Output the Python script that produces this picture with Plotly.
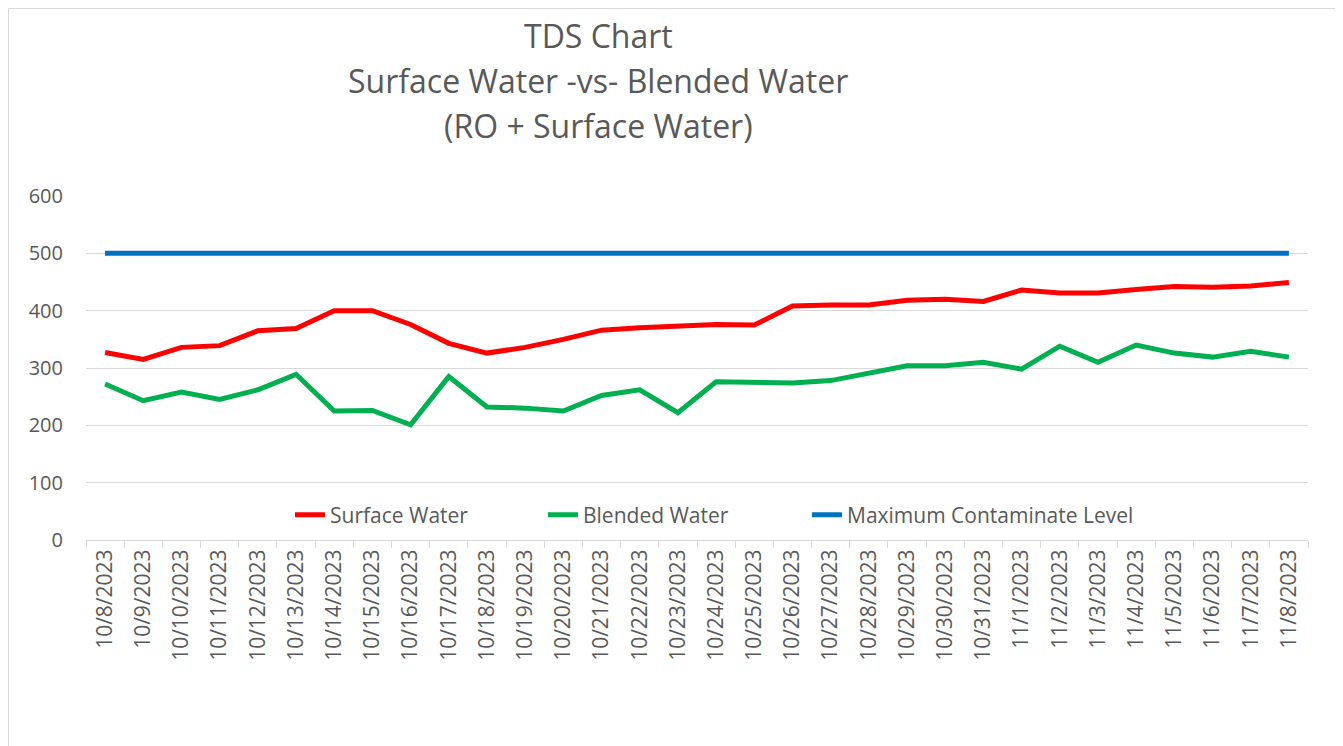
import plotly.graph_objects as go

dates = ["10/8/2023", "10/9/2023", "10/10/2023", "10/11/2023", "10/12/2023", "10/13/2023",
         "10/14/2023", "10/15/2023", "10/16/2023", "10/17/2023", "10/18/2023", "10/19/2023",
         "10/20/2023", "10/21/2023", "10/22/2023", "10/23/2023", "10/24/2023", "10/25/2023",
         "10/26/2023", "10/27/2023", "10/28/2023", "10/29/2023", "10/30/2023", "10/31/2023",
         "11/1/2023", "11/2/2023", "11/3/2023", "11/4/2023", "11/5/2023", "11/6/2023",
         "11/7/2023", "11/8/2023"]

surface_water = [327, 315, 336, 339, 365, 369, 400, 400, 376, 343, 326, 336,
                 350, 366, 370, 373, 376, 375, 408, 410, 410, 418, 420, 416,
                 436, 431, 431, 437, 442, 441, 443, 449]

blended_water = [272, 243, 258, 245, 262, 289, 225, 226, 201, 285, 232, 230,
                 225, 252, 262, 222, 276, 274, 274, 278, 292, 304, 304, 310,
                 298, 338, 310, 340, 326, 319, 329, 319]

mcl = [500] * len(dates)

y_ticks = [0, 100, 200, 300, 400, 500, 600]

title_lines = ["TDS Chart", "Surface Water -vs- Blended Water", "(RO + Surface Water)"]

FONT = "Open Sans"
GREY = "#595959"

W, H = 1343, 746
OFF = 8  # page offset of the figure (body margin)
# desired plot area in page pixels
P_L, P_R, P_T, P_B = 86, 1308, 196, 540
L, T = P_L - OFF, P_T - OFF
R = W - (P_R - OFF)
B = H - (P_B - OFF)
pw, ph = P_R - P_L, P_B - P_T


def px_x(p):
    return (p - P_L) / pw


def px_y(p):
    return (P_B - p) / ph


fig = go.Figure()
fig.add_trace(go.Scatter(x=dates, y=surface_water, name="Surface Water", mode="lines",
                         line=dict(color="#ff0000", width=5), legend="legend"))
fig.add_trace(go.Scatter(x=dates, y=blended_water, name="Blended Water", mode="lines",
                         line=dict(color="#00b050", width=5), legend="legend2"))
fig.add_trace(go.Scatter(x=dates, y=mcl, name="Maximum Contaminate Level", mode="lines",
                         line=dict(color="#0070c0", width=5), legend="legend3"))

annotations = []
for txt, py in zip(title_lines, [35, 80, 125]):
    annotations.append(dict(text=txt, x=px_x(598), y=px_y(py), xref="paper", yref="paper",
                            xanchor="center", yanchor="middle", showarrow=False,
                            font=dict(family=FONT, size=32, color=GREY)))


def leg(px_left):
    return dict(orientation="h", x=px_x(px_left), xanchor="left", y=px_y(515),
                yanchor="middle", font=dict(size=21, color=GREY),
                bgcolor="rgba(0,0,0,0)")


fig.update_layout(
    width=W, height=H,
    margin=dict(l=L, r=R, t=T, b=B),
    paper_bgcolor="white", plot_bgcolor="white",
    font=dict(family=FONT, color=GREY),
    showlegend=True,
    legend=leg(290),
    legend2=leg(543),
    legend3=leg(807),
    annotations=annotations,
    shapes=[dict(type="rect", xref="paper", yref="paper",
                 x0=px_x(OFF + 0.5), x1=px_x(1336), y0=px_y(780), y1=px_y(OFF + 0.5),
                 line=dict(color="#d9d9d9", width=1), layer="below")],
    xaxis=dict(type="category", range=[-0.5, len(dates) - 0.5], tickangle=-90,
               showgrid=False, showline=True, linecolor="#d9d9d9", linewidth=1,
               ticks="outside", tickson="boundaries", ticklen=7, tickcolor="#d9d9d9",
               tickfont=dict(family=FONT, size=21, color=GREY)),
    yaxis=dict(range=[0, 600], tickvals=y_ticks, showgrid=True, gridcolor="#d9d9d9",
               gridwidth=1, zeroline=False, showline=False, ticks="",
               tickfont=dict(family=FONT, size=20, color=GREY), ticklabelstandoff=22),
)

fig.write_html("out.html")
